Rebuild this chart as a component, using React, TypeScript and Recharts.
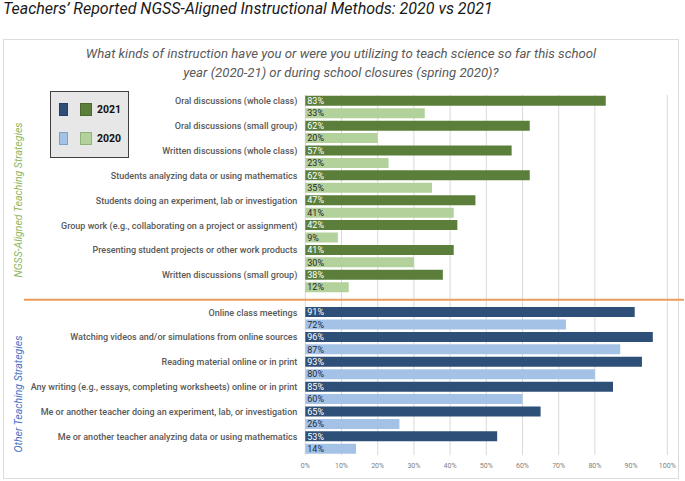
import { BarChart, Bar, XAxis, YAxis, CartesianGrid, Cell, LabelList, ReferenceLine } from 'recharts'

const ngssCategories = [
  'Oral discussions (whole class)',
  'Oral discussions (small group)',
  'Written discussions (whole class)',
  'Students analyzing data or using mathematics',
  'Students doing an experiment, lab or investigation',
  'Group work (e.g., collaborating on a project or assignment)',
  'Presenting student projects or other work products',
  'Written discussions (small group)',
]
const ngss2021 = [83, 62, 57, 62, 47, 42, 41, 38]
const ngss2020 = [33, 20, 23, 35, 41, 9, 30, 12]

const otherCategories = [
  'Online class meetings',
  'Watching videos and/or simulations from online sources',
  'Reading material online or in print',
  'Any writing (e.g., essays, completing worksheets) online or in print',
  'Me or another teacher doing an experiment, lab, or investigation',
  'Me or another teacher analyzing data or using mathematics',
]
const other2021 = [91, 96, 93, 85, 65, 53]
const other2020 = [72, 87, 80, 60, 26, 14]

const xTicks = [0, 10, 20, 30, 40, 50, 60, 70, 80, 90, 100]

const GREEN_DARK = '#5B7F3B'
const GREEN_LIGHT = '#B3D19B'
const BLUE_DARK = '#2E4F78'
const BLUE_LIGHT = '#A4C2E6'

type Row = { key: string; label: string; value: number | null; color: string; text: string }

function buildRows(): Row[] {
  const rows: Row[] = []
  ngssCategories.forEach((c, i) => {
    rows.push({ key: `n${i}a`, label: c, value: ngss2021[i], color: GREEN_DARK, text: '#ffffff' })
    rows.push({ key: `n${i}b`, label: '', value: ngss2020[i], color: GREEN_LIGHT, text: '#262626' })
  })
  rows.push({ key: 'gap', label: '', value: null, color: 'none', text: 'none' })
  otherCategories.forEach((c, i) => {
    rows.push({ key: `o${i}a`, label: c, value: other2021[i], color: BLUE_DARK, text: '#ffffff' })
    rows.push({ key: `o${i}b`, label: '', value: other2020[i], color: BLUE_LIGHT, text: '#1f2a3a' })
  })
  return rows
}

const rows = buildRows()
// the label list skips the empty gap row, so its index runs over the filled rows only
const filledRows = rows.filter(r => r.value != null)
const labelByKey: Record<string, string> = Object.fromEntries(rows.map(r => [r.key, r.label]))

function ValueLabel(props: any) {
  const { x, y, height, value, index } = props
  if (value == null) return null
  const row = filledRows[index]
  return (
    <text x={Number(x) + 2} y={Number(y) + Number(height) / 2} dy="0.36em" fontSize={9} fill={row ? row.text : '#fff'}>
      {value}%
    </text>
  )
}

function CategoryTick({ x, y, payload }: any) {
  const label = labelByKey[String(payload?.value)]
  if (!label) return null
  return (
    <text x={x} y={y} dy="0.36em" textAnchor="end" fontSize={9} fontWeight={500} fill="#595959">
      {label}
    </text>
  )
}

function Swatch({ x, y, w, color, border }: { x: number; y: number; w: number; color: string; border: string }) {
  return <div style={{ position: 'absolute', left: x, top: y, width: w, height: 13, background: color, border: `1px solid ${border}`, boxSizing: 'border-box' }} />
}

export default function App() {
  return (
    <div style={{ position: 'absolute', left: 0, top: 0, width: 685, height: 481, background: '#fff', fontFamily: 'Roboto, sans-serif', overflow: 'hidden' }}>
      <div style={{ position: 'absolute', left: 3, top: 1, fontSize: 16, lineHeight: '16px', fontStyle: 'italic', color: '#1a1a1a', whiteSpace: 'nowrap' }}>
        Teachers’ Reported NGSS-Aligned Instructional Methods: 2020 vs 2021
      </div>
      <div style={{ position: 'absolute', left: 3, top: 39, width: 676, height: 440, border: '1px solid #dcdcdc', boxSizing: 'border-box' }} />
      <div style={{ position: 'absolute', left: 21, width: 640, top: 45, textAlign: 'center', fontSize: 13.2, lineHeight: '18.5px', fontStyle: 'italic', color: '#595959' }}>
        What kinds of instruction have you or were you utilizing to teach science so far this school<br />
        year (2020-21) or during school closures (spring 2020)?
      </div>

      <BarChart
        width={685}
        height={481}
        layout="vertical"
        data={rows}
        margin={{ top: 94.8, right: 17.7, bottom: 5.8, left: 5.3 }}
        style={{ position: 'absolute', left: 0, top: 0 }}
      >
        <CartesianGrid horizontal={false} stroke="#d9d9d9" />
        <XAxis
          type="number"
          domain={[0, 100]}
          ticks={xTicks}
          tickFormatter={(v: unknown) => `${Number(v)}%`}
          axisLine={false}
          tickLine={false}
          height={20}
          tick={{ fill: '#808080', fontSize: 7 }}
        />
        <YAxis
          type="category"
          dataKey="key"
          width={300}
          interval={0}
          axisLine={false}
          tickLine={false}
          tick={<CategoryTick />}
        />
        <ReferenceLine
          y="gap"
          shape={(p: any) => <line x1={24} x2={684} y1={p.y1} y2={p.y2} stroke="#EE9A5D" strokeWidth={2} />}
        />
        <Bar dataKey="value" barSize={10} isAnimationActive={false}>
          {rows.map(r => (
            <Cell key={r.key} fill={r.color} />
          ))}
          <LabelList dataKey="value" content={ValueLabel} />
        </Bar>
      </BarChart>

      <div style={{ position: 'absolute', left: 50, top: 91, width: 79, height: 67, background: '#e7e7e7', border: '1px solid #404040', boxSizing: 'border-box' }} />
      <Swatch x={59} y={103} w={9} color={BLUE_DARK} border="#253f61" />
      <Swatch x={80} y={103} w={12} color={GREEN_DARK} border="#4a6a2f" />
      <Swatch x={59} y={132} w={9} color={BLUE_LIGHT} border="#7f9fc7" />
      <Swatch x={80} y={132} w={12} color={GREEN_LIGHT} border="#8fb378" />
      <div style={{ position: 'absolute', left: 97, top: 103, fontSize: 10.5, fontWeight: 700, color: '#111', lineHeight: '14px' }}>2021</div>
      <div style={{ position: 'absolute', left: 97, top: 132, fontSize: 10.5, fontWeight: 700, color: '#111', lineHeight: '14px' }}>2020</div>

      <div style={{ position: 'absolute', left: 18, top: 200, transform: 'translate(-50%, -50%) rotate(-90deg)', fontSize: 10.5, fontStyle: 'italic', color: '#8DB660', whiteSpace: 'nowrap' }}>
        NGSS-Aligned Teaching Strategies
      </div>
      <div style={{ position: 'absolute', left: 18, top: 394, transform: 'translate(-50%, -50%) rotate(-90deg)', fontSize: 10.5, fontStyle: 'italic', color: '#4472C4', whiteSpace: 'nowrap' }}>
        Other Teaching Strategies
      </div>
    </div>
  )
}
